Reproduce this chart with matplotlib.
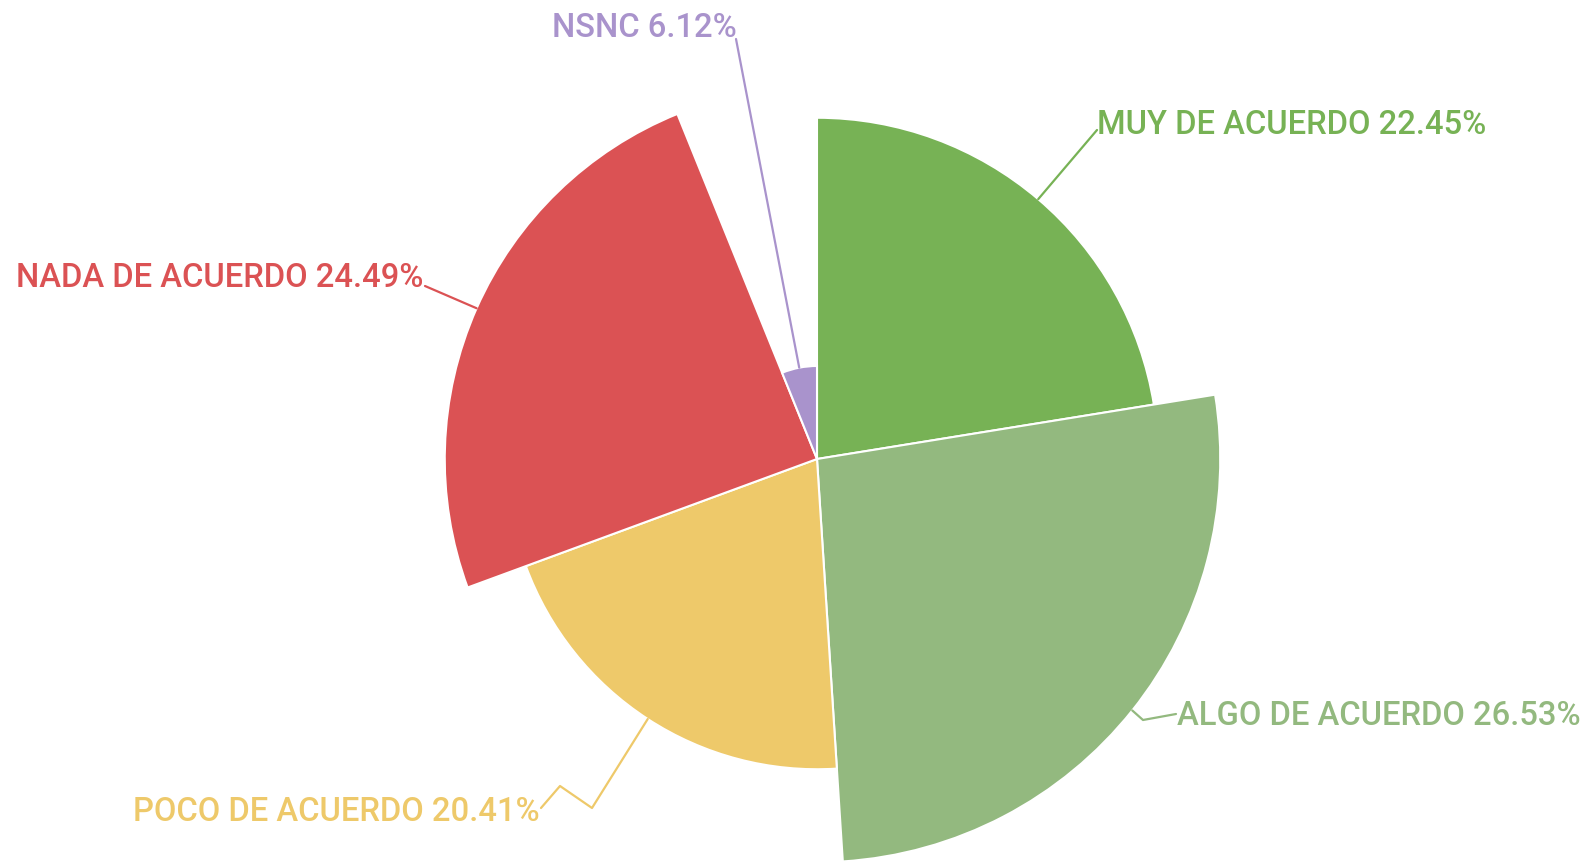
import numpy as np
import matplotlib
matplotlib.use("Agg")
import matplotlib.pyplot as plt

# Datos de la encuesta
categorias = ["MUY DE ACUERDO", "ALGO DE ACUERDO", "POCO DE ACUERDO", "NADA DE ACUERDO", "NSNC"]
porcentajes = [22.45, 26.53, 20.41, 24.49, 6.12]
colores = ["#77b255", "#93b97f", "#eec96a", "#db5254", "#a993cc"]

# Posición de cada etiqueta (píxeles, origen arriba a la izquierda) y codos de la línea guía
texto_pos = [(1097, 134), (1177, 725), (133, 821), (16, 287), (552, 37)]
codos = [
  [(1097, 131)],
  [(1143, 721), (1176, 715)],
  [(592, 809), (560, 787), (541, 809)],
  [(425, 287)],
  [(736, 40)],
]

W, H = 1585, 862
cx, cy = 817, 460      # centro del gráfico en píxeles
px_por_unidad = 15.2
P = 440
R = P / px_por_unidad

plt.rcParams["font.family"] = ["Roboto", "DejaVu Sans"]

fig = plt.figure(figsize=(W / 100, H / 100), dpi=100)
ax = fig.add_axes([(cx - P) / W, (H - cy - P) / H, 2 * P / W, 2 * P / H], projection="polar")
ax.set_theta_zero_location("N")
ax.set_theta_direction(-1)

valores = np.array(porcentajes)
anchos = valores / 100 * 2 * np.pi
inicios = np.concatenate([[0], np.cumsum(anchos)[:-1]])
ax.bar(inicios, valores, width=anchos, align="edge", color=colores,
       edgecolor="white", linewidth=1.5)
ax.set_ylim(0, R)
ax.set_axis_off()

# Capa para etiquetas en coordenadas de píxel
capa = fig.add_axes([0, 0, 1, 1])
capa.set_xlim(0, W)
capa.set_ylim(H, 0)
capa.set_axis_off()

medios = inicios + anchos / 2
for i, cat in enumerate(categorias):
  ancla_disp = ax.transData.transform((medios[i], valores[i]))
  ancla = capa.transData.inverted().transform(ancla_disp)
  pts = [tuple(ancla)] + codos[i]
  xs = [p[0] for p in pts]
  ys = [p[1] for p in pts]
  capa.plot(xs, ys, color=colores[i], linewidth=1.6, solid_capstyle="round")
  capa.text(texto_pos[i][0], texto_pos[i][1], f"{cat} {porcentajes[i]:.2f}%",
            color=colores[i], fontsize=23.6, fontweight="medium", va="baseline")

fig.savefig("out.png", dpi=100)
plt.close(fig)
